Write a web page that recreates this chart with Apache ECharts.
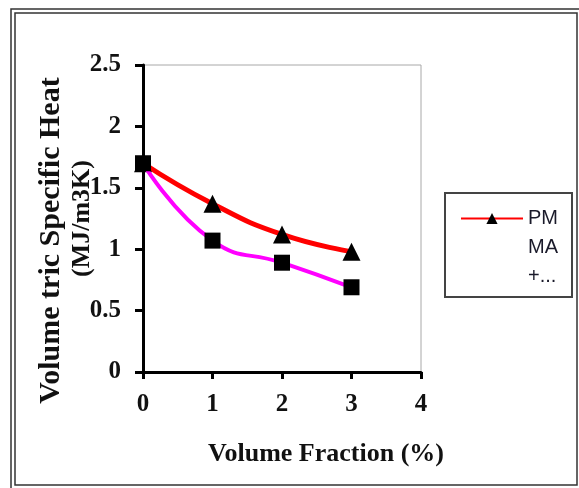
<!DOCTYPE html>
<html>
<head>
<meta charset="utf-8">
<script src="https://cdn.jsdelivr.net/npm/echarts@6/dist/echarts.min.js"></script>
<style>html,body{margin:0;padding:0;background:#fff}#c{width:579px;height:488px}</style>
</head>
<body>
<div id="c"></div>
<script>
var xValues = [0, 1, 2, 3];
var seriesAName = 'PMMA+...';
var seriesA = [1.70, 1.37, 1.12, 0.98];
var seriesBName = 'Series 2';
var seriesB = [1.70, 1.07, 0.89, 0.69];
var xTicks = [0, 1, 2, 3, 4];
var yTicks = [0, 0.5, 1, 1.5, 2, 2.5];

function pairs(xs, ys) { return xs.map(function (x, i) { return [x, ys[i]]; }); }

var chart = echarts.init(document.getElementById('c'), null, { renderer: 'canvas' });
var serif = '"Liberation Serif", "Times New Roman", serif';
chart.setOption({
  backgroundColor: '#fff',
  animation: false,
  grid: { left: 143, right: 158, top: 65, bottom: 116, show: true, borderColor: '#a8a8a8', borderWidth: 1, backgroundColor: '#fff' },
  xAxis: {
    type: 'value', min: xTicks[0], max: xTicks[xTicks.length - 1], interval: 1,
    name: 'Volume Fraction (%)', nameLocation: 'middle', nameGap: 69, nameMoveOverlap: false,
    nameTextStyle: { fontFamily: serif, fontWeight: 'bold', fontSize: 26, color: '#111', padding: [0, 0, 0, 88] },
    axisLine: { lineStyle: { color: '#000', width: 3 } },
    axisTick: { show: true, length: 7, lineStyle: { color: '#000', width: 3 } },
    splitLine: { show: false },
    axisLabel: { margin: 20, fontFamily: serif, fontWeight: 'bold', fontSize: 25, color: '#111' }
  },
  yAxis: {
    type: 'value', min: yTicks[0], max: yTicks[yTicks.length - 1], interval: 0.5,
    name: '{a|Volume tric Specific Heat}\n{b|(MJ/m3K)}', nameLocation: 'middle', nameRotate: 90, nameGap: 45, nameMoveOverlap: false,
    nameTextStyle: {
      fontFamily: serif, fontWeight: 'bold', color: '#111', align: 'center',
      rich: {
        a: { fontFamily: serif, fontWeight: 'bold', fontSize: 30, color: '#111', lineHeight: 31, padding: [0, 44, 0, 0] },
        b: { fontFamily: serif, fontWeight: 'bold', fontSize: 26, color: '#111', lineHeight: 31 }
      }
    },
    axisLine: { show: true, lineStyle: { color: '#000', width: 3 } },
    axisTick: { show: true, length: 8, lineStyle: { color: '#000', width: 3 } },
    splitLine: { show: false },
    axisLabel: { margin: 22, fontFamily: serif, fontWeight: 'bold', fontSize: 25, color: '#111' }
  },
  legend: {
    data: [seriesAName], left: 460, top: 146, orient: 'vertical', padding: 0,
    itemWidth: 62, itemHeight: 14, itemGap: 4,
    formatter: function () { return ' \n \nPM\nMA\n+...'; },
    textStyle: { fontFamily: '"Liberation Sans", Arial, sans-serif', fontSize: 20, color: '#1a1a2a', lineHeight: 29 }
  },
  series: [
    {
      name: seriesAName, type: 'line', smooth: true, data: pairs(xValues, seriesA),
      lineStyle: { color: '#ff0000', width: 5 }, itemStyle: { color: '#000' },
      symbol: 'triangle', symbolSize: 18, z: 2
    },
    {
      name: seriesBName, type: 'line', smooth: true, data: pairs(xValues, seriesB),
      lineStyle: { color: '#ff00ff', width: 4 }, itemStyle: { color: '#000' },
      symbol: 'rect', symbolSize: 16, z: 3
    }
  ],
  graphic: [
    { type: 'rect', shape: { x: 11, y: 9, width: 580, height: 490 }, style: { fill: 'none', stroke: '#333', lineWidth: 1.5 }, silent: true },
    { type: 'rect', shape: { x: 15, y: 13, width: 562, height: 472 }, style: { fill: 'none', stroke: '#333', lineWidth: 1.5 }, silent: true },
    { type: 'rect', shape: { x: 445, y: 193, width: 127, height: 104 }, style: { fill: 'none', stroke: '#444', lineWidth: 2 }, silent: true }
  ]
});
</script>
</body>
</html>
